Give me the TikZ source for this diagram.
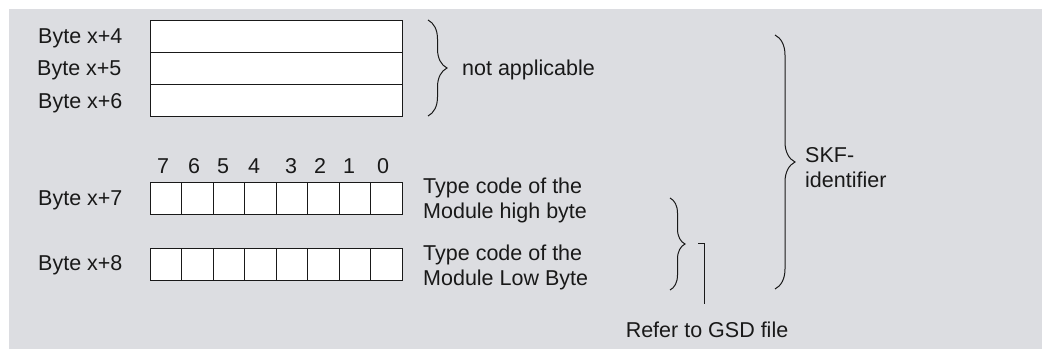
\documentclass[tikz,border=0pt]{standalone}
\usepackage{fontspec}
\setmainfont{Liberation Sans}
\usetikzlibrary{decorations.pathreplacing}
\definecolor{bgGrey}{RGB}{220,221,225}
\definecolor{ink}{RGB}{25,25,25}
\tikzset{
  lbl/.style={inner sep=0pt, text=ink, font=\fontsize{21.5}{25}\selectfont},
  rowbox/.style={draw=ink, fill=white, line width=1pt, minimum width=252pt, minimum height=32pt, inner sep=0pt, outer sep=0pt},
  bitcell/.style={draw=ink, fill=white, line width=1pt, minimum width=31.5pt, minimum height=32pt, inner sep=0pt, outer sep=0pt},
  bracedraw/.style={draw=ink, line width=1pt, decorate},
  conn/.style={draw=ink, line width=1pt}
}
\begin{document}
\begin{tikzpicture}[x=1pt,y=-1pt]
\useasboundingbox (0,0) rectangle (1042,349);
\fill[bgGrey] (9,9) rectangle (1042,349);

% top rows
\node[rowbox] (r4) at (276,36.5) {};
\node[rowbox, minimum height=32pt] (r5) at (276,68) {};
\node[rowbox] (r6) at (276,100) {};
\node[lbl, anchor=base west] (l4) at (38,43) {Byte x+4};
\node[lbl, anchor=base west] (l5) at (37,75.5) {Byte x+5};
\node[lbl, anchor=base west] (l6) at (38,108) {Byte x+6};

% not applicable brace
\coordinate (na1) at (428,20);
\coordinate (na2) at (428,116);
\draw[bracedraw, decoration={brace, amplitude=19pt}] (na1) -- (na2);
\node[lbl, anchor=base west] (na) at (462,75) {not applicable};

% bit numbers
\foreach \n/\x in {7/163,6/194,5/223,4/254,3/291,2/320,1/349,0/383}
  \node[lbl, anchor=base] (bn\n) at (\x,173) {\n};

% bit rows
\foreach \i in {0,...,7} {
  \node[bitcell] (a\i) at ({150+31.5*(\i+0.5)},198) {};
  \node[bitcell] (b\i) at ({150+31.5*(\i+0.5)},264) {};
}
\node[lbl, anchor=base west] (l7) at (38,205) {Byte x+7};
\node[lbl, anchor=base west] (l8) at (38,270) {Byte x+8};

\node[lbl, anchor=west, align=left] (t7) at (423,200) {Type code of the\\Module high byte};
\node[lbl, anchor=west, align=left] (t8) at (423,267) {Type code of the\\Module Low Byte};

% small brace
\coordinate (sb1) at (670,198);
\coordinate (sb2) at (670,290);
\draw[bracedraw, decoration={brace, amplitude=15pt}] (sb1) -- (sb2);

% GSD pointer
\coordinate (gtick) at (698,243);
\coordinate (gtop) at (704,243);
\coordinate (gbot) at (704,304);
\draw[conn] (gtick) -- (gtop) -- (gbot);
\node[lbl, anchor=base] (gsd) at (707,337) {Refer to GSD file};

% big brace
\coordinate (bb1) at (775,35);
\coordinate (bb2) at (775,289);
\draw[bracedraw, decoration={brace, amplitude=20pt}] (bb1) -- (bb2);
\node[lbl, anchor=west, align=left] (skf) at (805,168) {SKF-\\identifier};
\end{tikzpicture}
\end{document}
